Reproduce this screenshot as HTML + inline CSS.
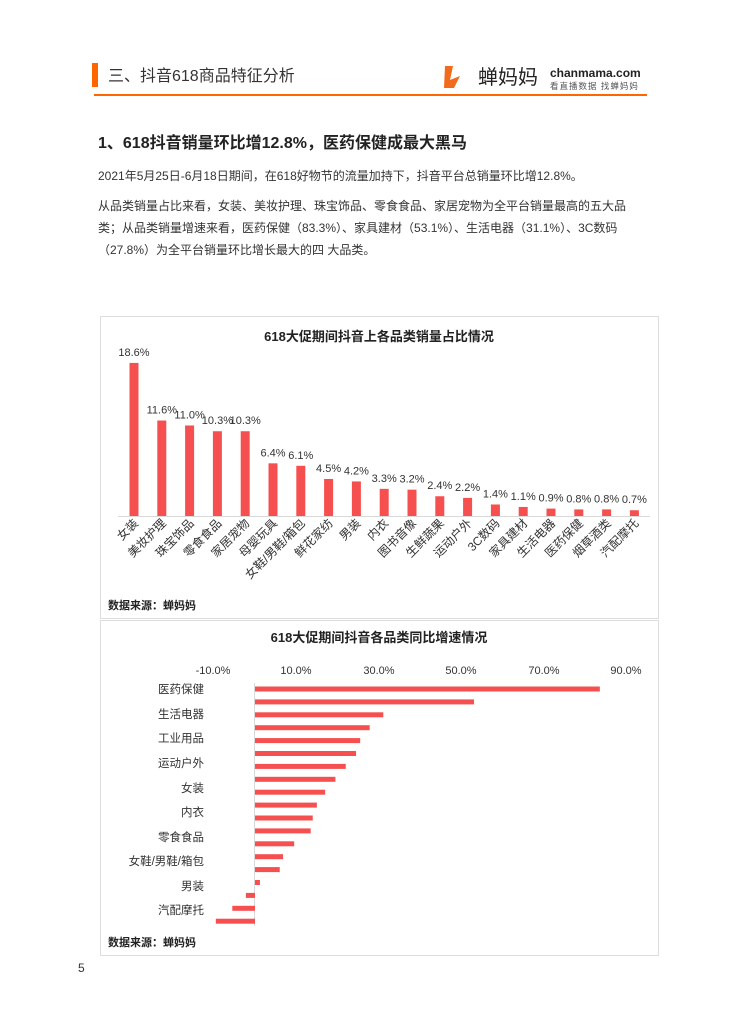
<!DOCTYPE html><html><head><meta charset="utf-8"><style>
body{margin:0;background:#fff;width:737px;height:1020px;overflow:hidden;font-family:"Liberation Sans","Noto Sans CJK SC",sans-serif;}
svg text{font-family:"Liberation Sans","Noto Sans CJK SC",sans-serif;}
</style></head><body>
<svg width="737" height="1020" xmlns="http://www.w3.org/2000/svg">
<rect x="92" y="63" width="6" height="24" fill="#f60"/>
<text x="108" y="81" font-size="16" fill="#333">三、抖音618商品特征分析</text>
<path d="M445 66 l8 0 l-3 14 l10 -4 l-6 12 l-10 0 z" fill="#f26a1b"/>
<text x="478" y="84" font-size="20" fill="#222">蝉妈妈</text>
<text x="550" y="77" font-size="12" font-weight="bold" fill="#222">chanmama.com</text>
<text x="550" y="89" font-size="8.5" fill="#555" letter-spacing="1">看直播数据 找蝉妈妈</text>
<rect x="94" y="94" width="553" height="2" fill="#f60"/>
<text x="98" y="148" font-size="16" font-weight="bold" fill="#222">1、618抖音销量环比增12.8%，医药保健成最大黑马</text>
<g font-size="12" fill="#333">
<text x="98" y="180">2021年5月25日-6月18日期间，在618好物节的流量加持下，抖音平台总销量环比增12.8%。</text>
<text x="98" y="210">从品类销量占比来看，女装、美妆护理、珠宝饰品、零食食品、家居宠物为全平台销量最高的五大品</text>
<text x="98" y="232">类；从品类销量增速来看，医药保健（83.3%）、家具建材（53.1%）、生活电器（31.1%）、3C数码</text>
<text x="98" y="254">（27.8%）为全平台销量环比增长最大的四 大品类。</text>
</g>
<rect x="100.5" y="316.5" width="558" height="302" fill="none" stroke="#ddd"/>
<rect x="100.5" y="620.5" width="558" height="335" fill="none" stroke="#ddd"/>
<text x="379" y="341" font-size="13" font-weight="bold" text-anchor="middle" fill="#222">618大促期间抖音上各品类销量占比情况</text>
<line x1="118" y1="516.5" x2="650" y2="516.5" stroke="#d9d9d9"/>
<g id="c1"></g>
<text x="108" y="609" font-size="11" font-weight="bold" fill="#222">数据来源：蝉妈妈</text>
<text x="379" y="642" font-size="13" font-weight="bold" text-anchor="middle" fill="#222">618大促期间抖音各品类同比增速情况</text>
<g font-size="11" fill="#333" text-anchor="middle">
<text x="213" y="674">-10.0%</text><text x="296" y="674">10.0%</text><text x="379" y="674">30.0%</text><text x="461" y="674">50.0%</text><text x="544" y="674">70.0%</text><text x="626" y="674">90.0%</text>
</g>
<line x1="254.5" y1="683" x2="254.5" y2="926" stroke="#d9d9d9"/>
<g id="c2"></g>
<g font-size="11.5" fill="#333" text-anchor="end">
<text x="204" y="693">医药保健</text><text x="204" y="718">生活电器</text><text x="204" y="742">工业用品</text><text x="204" y="767">运动户外</text><text x="204" y="792">女装</text><text x="204" y="816">内衣</text><text x="204" y="841">零食食品</text><text x="204" y="865">女鞋/男鞋/箱包</text><text x="204" y="890">男装</text><text x="204" y="914">汽配摩托</text>
</g>
<text x="108" y="946" font-size="11" font-weight="bold" fill="#222">数据来源：蝉妈妈</text>
<text x="78" y="972" font-size="12" fill="#333">5</text>
</svg>
<script>
var ns="http://www.w3.org/2000/svg";
function el(p,t,a,tx){var e=document.createElementNS(ns,t);for(var k in a)e.setAttribute(k,a[k]);if(tx)e.textContent=tx;p.appendChild(e);return e;}
var c1=document.getElementById("c1");
var n=["女装","美妆护理","珠宝饰品","零食食品","家居宠物","母婴玩具","女鞋/男鞋/箱包","鲜花家纺","男装","内衣","图书音像","生鲜蔬果","运动户外","3C数码","家具建材","生活电器","医药保健","烟草酒类","汽配摩托"];
var v=[18.6,11.6,11.0,10.3,10.3,6.4,6.1,4.5,4.2,3.3,3.2,2.4,2.2,1.4,1.1,0.9,0.8,0.8,0.7];
for(var i=0;i<19;i++){var x=134+i*27.8,h=v[i]*8.23;
el(c1,"rect",{x:x-4.5,y:516-h,width:9,height:h,fill:"#f5504f"});
el(c1,"text",{x:x,y:516-h-7,"font-size":11,"text-anchor":"middle",fill:"#333"},v[i].toFixed(1)+"%");
el(c1,"text",{x:0,y:0,"font-size":12,"text-anchor":"end",fill:"#333",transform:"translate("+(x+5)+",524) rotate(-45)"},n[i]);}
var c2=document.getElementById("c2");
var w=[83.6,53.1,31.1,27.8,25.5,24.5,22,19.5,17,15,14,13.5,9.5,6.8,6,1.2,-2.2,-5.5,-9.5];
for(var i=0;i<19;i++){var y=689+i*12.9,L=w[i]*4.125;
el(c2,"rect",{x:L>=0?255:255+L,y:y-2.5,width:Math.abs(L),height:5,fill:"#f5504f"});}
</script>
</body></html>
